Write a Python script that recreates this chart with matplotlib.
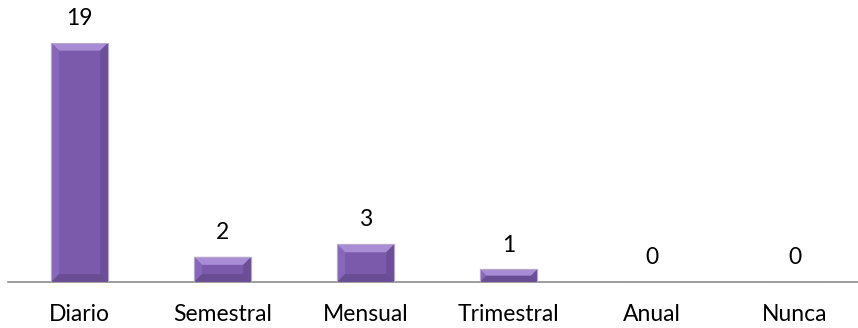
import matplotlib
matplotlib.use("Agg")
import matplotlib.pyplot as plt
from matplotlib.patches import Polygon

categories = ["Diario", "Semestral", "Mensual", "Trimestral", "Anual", "Nunca"]
values = [19, 2, 3, 1, 0, 0]

plt.rcParams["font.family"] = ["Lato", "DejaVu Sans"]

fig = plt.figure(figsize=(8.58, 3.28), dpi=100)
ax = fig.add_axes([0.0095, 0.14, 1.0, 0.73])

x = list(range(len(categories)))
bars = ax.bar(x, values, width=0.40, color="#7B5AAB", edgecolor="#B8AEC4",
              linewidth=0.8, zorder=2)

ax.set_xlim(-0.5, len(categories) - 0.5)
ax.set_ylim(0, 19)

fig.canvas.draw()
inv = ax.transData.inverted()
bevel_px = 8.0

def to_data(pts):
    return inv.transform(pts)

for rect, v in zip(bars, values):
    if v <= 0:
        continue
    x0, y0 = rect.get_x(), rect.get_y()
    x1, y1 = x0 + rect.get_width(), y0 + rect.get_height()
    (px0, py0) = ax.transData.transform((x0, y0))
    (px1, py1) = ax.transData.transform((x1, y1))
    h = py1 - py0
    b = min(bevel_px, h / 2.0)
    # top facet (light)
    top = [(px0, py1), (px1, py1), (px1 - b, py1 - b), (px0 + b, py1 - b)]
    # left facet
    left = [(px0, py0), (px0, py1), (px0 + b, py1 - b), (px0 + b, py0 + b)]
    # right facet
    right = [(px1, py0), (px1, py1), (px1 - b, py1 - b), (px1 - b, py0 + b)]
    # bottom facet
    bottom = [(px0, py0), (px1, py0), (px1 - b, py0 + b), (px0 + b, py0 + b)]
    for pts, col in [(top, "#A88CD6"), (left, "#8767BB"),
                     (right, "#6C4E99"), (bottom, "#684C94")]:
        ax.add_patch(Polygon(to_data(pts), closed=True, facecolor=col,
                             edgecolor="none", zorder=3))
    ax.add_patch(Polygon(to_data([(px0, py0), (px1, py0), (px1, py1), (px0, py1)]),
                         closed=True, facecolor="none", edgecolor="#B5A9C6",
                         linewidth=0.8, zorder=4))

for xi, v in zip(x, values):
    ax.annotate(str(v), (xi, v), xytext=(0, 10), textcoords="offset points",
                ha="center", va="bottom", fontsize=16.5, color="#000000")

for s in ["top", "right", "left"]:
    ax.spines[s].set_visible(False)
ax.spines["bottom"].set_color("#8C8C8C")
ax.spines["bottom"].set_linewidth(1.2)
ax.set_yticks([])
ax.set_xticks(x)
ax.set_xticklabels(categories, fontsize=16.5)
ax.tick_params(axis="x", length=0, pad=16)

fig.savefig("out.png", dpi=100)
